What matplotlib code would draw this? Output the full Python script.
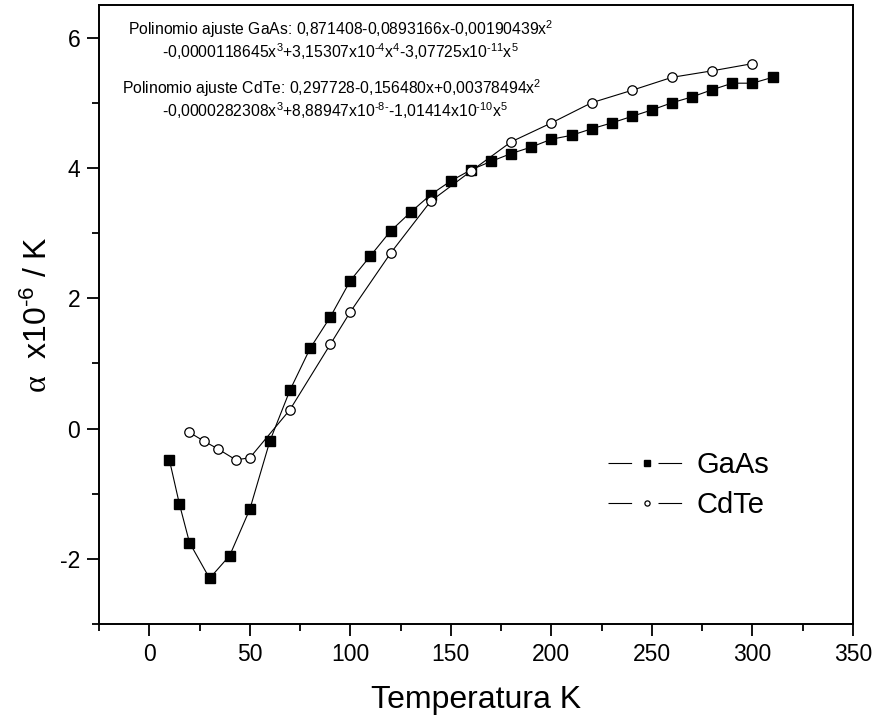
import matplotlib
matplotlib.use('Agg')
import matplotlib.pyplot as plt
from matplotlib.ticker import MultipleLocator

# thermal expansion coefficient vs temperature
T_GAAS = [10, 15, 20, 30, 40, 50, 60, 70, 80, 90, 100, 110, 120, 130, 140,
          150, 160, 170, 180, 190, 200, 210, 220, 230, 240, 250, 260, 270,
          280, 290, 300, 310]
A_GAAS = [-0.48, -1.16, -1.75, -2.30, -1.95, -1.24, -0.19, 0.59, 1.23, 1.71,
          2.27, 2.65, 3.03, 3.32, 3.59, 3.80, 3.97, 4.10, 4.22, 4.32, 4.44,
          4.50, 4.60, 4.69, 4.79, 4.89, 5.00, 5.09, 5.20, 5.30, 5.30, 5.39]

T_CDTE = [20, 27, 34, 43, 50, 70, 90, 100, 120, 140, 160, 180, 200, 220,
          240, 260, 280, 300]
A_CDTE = [-0.06, -0.19, -0.31, -0.48, -0.45, 0.29, 1.29, 1.79, 2.69, 3.49,
          3.95, 4.40, 4.69, 5.00, 5.19, 5.39, 5.49, 5.60]

# short hyphen inside superscripts (mathtext turns '-' into a wide minus)
H = '\u2010'
FIT_LINES = [
    'Polinomio ajuste GaAs: 0,871408-0,0893166x-0,00190439x$^{2}$',
    '-0,0000118645x$^{3}$+3,15307x10$^{%s4}$x$^{4}$-3,07725x10$^{%s11}$x$^{5}$' % (H, H),
    'Polinomio ajuste CdTe: 0,297728-0,156480x+0,00378494x$^{2}$',
    '-0,0000282308x$^{3}$+8,88947x10$^{%s8%s}$-1,01414x10$^{%s10}$x$^{5}$' % (H, H, H),
]

plt.rcParams.update({
    'font.family': 'Liberation Sans',
    'mathtext.fontset': 'custom',
    'mathtext.rm': 'Liberation Sans',
    'mathtext.it': 'Liberation Sans',
    'mathtext.bf': 'Liberation Sans:bold',
    'mathtext.sf': 'Liberation Serif',
    'axes.unicode_minus': False,
    'lines.scale_dashes': False,
})

fig = plt.figure(figsize=(8.8, 7.25), dpi=100)
ax = fig.add_axes([99 / 880, 101 / 725, 754 / 880, 619 / 725])

ax.plot(T_GAAS, A_GAAS, color='black', lw=0.8, marker='s', ms=6.6,
        mfc='black', mec='black', label='GaAs')
ax.plot(T_CDTE, A_CDTE, color='black', lw=0.8, marker='o', ms=6.8,
        mfc='white', mec='black', mew=0.9, label='CdTe')

ax.set_xlim(-25, 350)
ax.set_ylim(-3, 6.5)
ax.xaxis.set_major_locator(MultipleLocator(50))
ax.xaxis.set_minor_locator(MultipleLocator(25))
ax.yaxis.set_major_locator(MultipleLocator(2))
ax.yaxis.set_minor_locator(MultipleLocator(1))
ax.tick_params(which='both', direction='out', width=1.3, top=False, right=False)
ax.tick_params(which='major', length=8.5, labelsize=16.5, pad=5)
ax.tick_params(which='minor', length=5)
for sp in ax.spines.values():
    sp.set_linewidth(1.4)

ax.set_xlabel('Temperatura K', fontsize=23, labelpad=14)
ax.set_ylabel('$\\mathsf{\\alpha}$  x10$^{%s6}$ / K' % H, fontsize=23, labelpad=4)

# fitted polynomials written along the top
fig.text(128 / 880, 1 - 35 / 725, FIT_LINES[0], fontsize=11.3, va='baseline')
fig.text(162 / 880, 1 - 58 / 725, FIT_LINES[1], fontsize=11.3, va='baseline')
fig.text(122 / 880, 1 - 94 / 725, FIT_LINES[2], fontsize=11.3, va='baseline')
fig.text(162 / 880, 1 - 117 / 725, FIT_LINES[3], fontsize=11.3, va='baseline')

leg = ax.legend(loc='upper left', bbox_to_anchor=(0.675, 0.279), frameon=False,
                fontsize=21, handlelength=2.65, handletextpad=0.4,
                labelspacing=0.4, borderpad=0, borderaxespad=0,
                markerscale=0.55)
# line - marker - line look for the legend keys
for line in leg.get_lines():
    line.set_dashes([17, 19])

fig.savefig('out.png', dpi=100)
